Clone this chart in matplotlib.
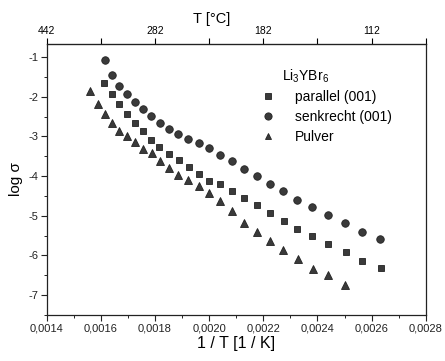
import matplotlib
matplotlib.use("Agg")
import matplotlib.pyplot as plt
from matplotlib.ticker import FuncFormatter, MultipleLocator, FixedLocator
from matplotlib.lines import Line2D

plt.rcParams['font.family'] = ['Liberation Sans', 'DejaVu Sans']
plt.rcParams['axes.unicode_minus'] = False
plt.rcParams['mathtext.fontset'] = 'custom'
plt.rcParams['mathtext.rm'] = 'Liberation Sans'
plt.rcParams['mathtext.it'] = 'Liberation Sans:italic'

# --- data (1/T in 1/K, log sigma) ---
senk_x = [0.001615, 0.001642, 0.001669, 0.001697, 0.001725, 0.001756, 0.001787,
          0.001820, 0.001852, 0.001885, 0.001921, 0.001961, 0.002001, 0.002042,
          0.002084, 0.002130, 0.002176, 0.002223, 0.002273, 0.002325, 0.002381,
          0.002440, 0.002502, 0.002563, 0.002632]
senk_y = [-1.08, -1.46, -1.73, -1.94, -2.12, -2.30, -2.49, -2.65, -2.82, -2.95,
          -3.06, -3.16, -3.29, -3.46, -3.63, -3.81, -4.00, -4.19, -4.37, -4.59,
          -4.78, -4.98, -5.18, -5.40, -5.59]

par_x = [0.001614, 0.001642, 0.001669, 0.001698, 0.001727, 0.001755, 0.001784,
         0.001817, 0.001852, 0.001890, 0.001925, 0.001964, 0.002001, 0.002041,
         0.002083, 0.002130, 0.002177, 0.002225, 0.002276, 0.002326, 0.002381,
         0.002440, 0.002504, 0.002565, 0.002634]
par_y = [-1.65, -1.94, -2.19, -2.43, -2.65, -2.87, -3.08, -3.27, -3.44, -3.59,
         -3.77, -3.95, -4.13, -4.20, -4.38, -4.55, -4.73, -4.93, -5.13, -5.32,
         -5.52, -5.72, -5.92, -6.13, -6.32]

pulv_x = [0.001562, 0.001590, 0.001615, 0.001643, 0.001669, 0.001696, 0.001725,
          0.001755, 0.001788, 0.001819, 0.001853, 0.001887, 0.001922, 0.001962,
          0.002001, 0.002042, 0.002084, 0.002130, 0.002175, 0.002223, 0.002274,
          0.002327, 0.002383, 0.002440, 0.002502]
pulv_y = [-1.85, -2.19, -2.44, -2.65, -2.85, -2.99, -3.14, -3.31, -3.42, -3.63,
          -3.80, -3.96, -4.10, -4.25, -4.42, -4.63, -4.87, -5.17, -5.41, -5.63,
          -5.86, -6.09, -6.34, -6.48, -6.75]

series_labels = ["parallel (001)", "senkrecht (001)", "Pulver"]
legend_title = r"$\mathregular{Li_3YBr_6}$"

x_ticks = [0.0014, 0.0016, 0.0018, 0.0020, 0.0022, 0.0024, 0.0026, 0.0028]
y_ticks = [-1, -2, -3, -4, -5, -6, -7]
top_tick_pos = [0.0014, 0.0018, 0.0022, 0.0026]
top_tick_labels = ["442", "282", "182", "112"]

col = '#3a3a3a'

fig = plt.figure(figsize=(4.45, 3.61), dpi=100)
ax = fig.add_axes([0.1045, 0.1274, 0.8525, 0.7506])

ax.plot(par_x, par_y, ls='none', marker='s', ms=4.4, mfc=col, mec='#222222', mew=0.6)
ax.plot(senk_x, senk_y, ls='none', marker='o', ms=5.4, mfc=col, mec='#222222', mew=0.6)
ax.plot(pulv_x, pulv_y, ls='none', marker='^', ms=5.2, mfc=col, mec='#222222', mew=0.6)

ax.set_xlim(0.0014, 0.0028)
ax.set_ylim(-7.5, -0.67)
ax.xaxis.set_major_locator(FixedLocator(x_ticks))
ax.xaxis.set_minor_locator(MultipleLocator(0.0001))
ax.yaxis.set_major_locator(FixedLocator(y_ticks))
ax.yaxis.set_minor_locator(MultipleLocator(0.5))
ax.xaxis.set_major_formatter(FuncFormatter(lambda v, p: f"{v:.4f}".replace('.', ',')))
ax.yaxis.set_major_formatter(FuncFormatter(lambda v, p: f"{int(round(v))}"))
ax.tick_params(which='major', direction='out', length=4, width=0.8, labelsize=8, colors='#222222')
ax.tick_params(which='minor', direction='out', length=2, width=0.6)
ax.tick_params(axis='x', pad=2)
ax.tick_params(axis='y', pad=2)
for s in ax.spines.values():
    s.set_linewidth(0.9)
    s.set_color('#222222')

ax.set_xlabel("1 / T [1 / K]", fontsize=11.5, labelpad=2)
ax.set_ylabel("log σ", fontsize=11, labelpad=4)

top = ax.secondary_xaxis('top')
top.xaxis.set_major_locator(FixedLocator(top_tick_pos))
top.xaxis.set_major_formatter(FuncFormatter(
    lambda v, p: dict(zip([round(t, 5) for t in top_tick_pos], top_tick_labels)).get(round(v, 5), "")))
top.xaxis.set_minor_locator(FixedLocator([0.0016, 0.0020, 0.0024, 0.0028]))
top.tick_params(which='major', direction='out', length=4, width=0.8, labelsize=7.5, pad=2)
top.tick_params(which='minor', direction='out', length=4, width=0.8)
fig.text(212 / 445, 1 - 19 / 361, "T [°C]", fontsize=10.5, ha='center', va='center')

handles = [
    Line2D([], [], ls='none', marker='s', ms=4.2, mfc=col, mec='#222222', mew=0.6),
    Line2D([], [], ls='none', marker='o', ms=5.2, mfc=col, mec='#222222', mew=0.6),
    Line2D([], [], ls='none', marker='^', ms=5.0, mfc=col, mec='#222222', mew=0.6),
]
ax.text(0.62, 0.88, legend_title, transform=ax.transAxes, fontsize=10, va='center', ha='left')
ax.legend(handles, series_labels, loc='upper left', bbox_to_anchor=(0.54, 0.865),
          frameon=False, fontsize=10, handlelength=1.0, handletextpad=1.45,
          labelspacing=0.42, borderpad=0.2)

fig.savefig("out.png", dpi=100)
